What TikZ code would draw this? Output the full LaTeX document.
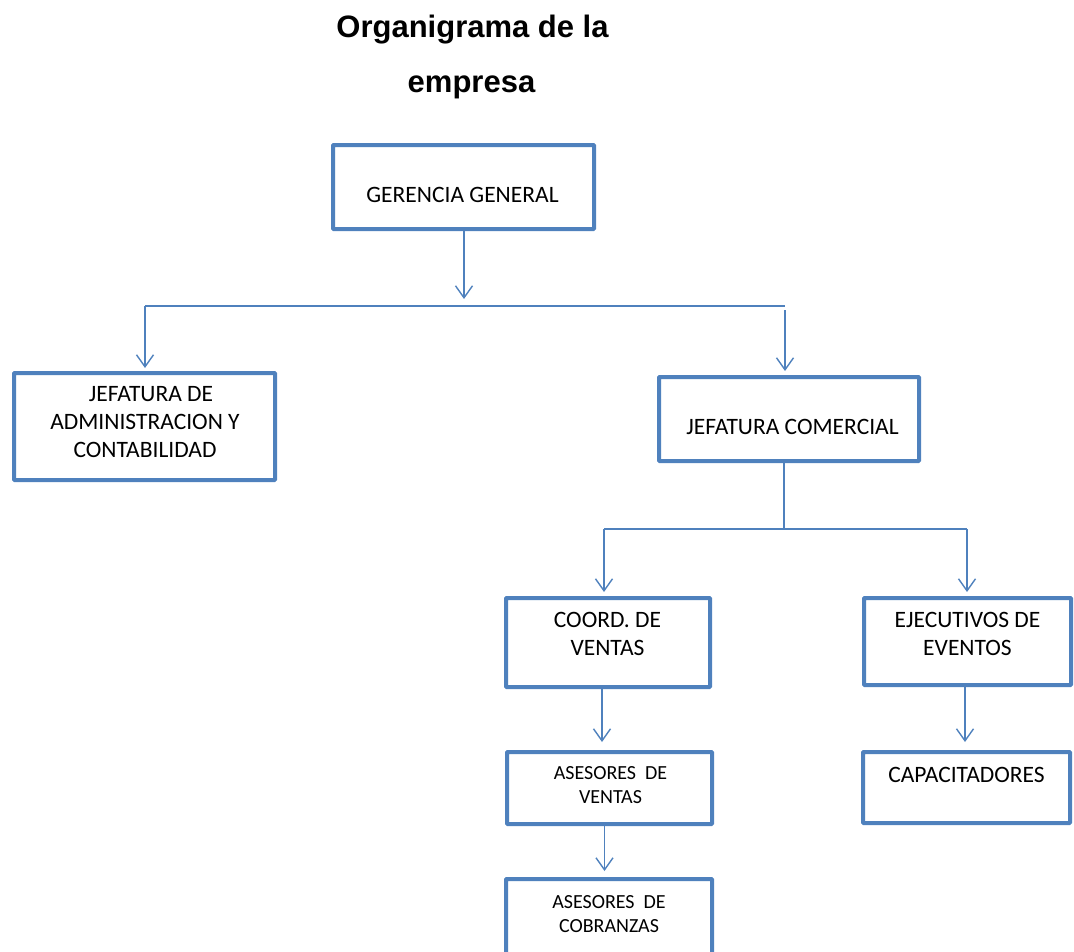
\documentclass[tikz,border=0pt]{standalone}
\usepackage{fontspec}
\setmainfont{Carlito}
\newfontfamily\titlefont{Liberation Sans}
\usetikzlibrary{arrows.meta}
\definecolor{ofblue}{RGB}{79,129,189}
\tikzset{
  box/.style={draw=ofblue, line width=4pt, fill=white, inner sep=0pt, rounded corners=0.8pt},
  lbl/.style={font=\fontsize{23.5}{28}\selectfont, align=center, inner sep=0pt, text=black},
  slbl/.style={font=\fontsize{20}{24}\selectfont, align=center, inner sep=0pt, text=black},
  ttl/.style={font=\titlefont\bfseries\fontsize{31}{55}\selectfont, inner sep=0pt, anchor=base},
  conn/.style={draw=ofblue, line width=1.4pt},
  arr/.style={conn, -{Straight Barb[length=12pt,width=17pt,line width=1.4pt]}}
}
\begin{document}
\begin{tikzpicture}[x=1pt,y=-1pt]
\useasboundingbox (0,0) rectangle (1074,951);
\clip (0,0) rectangle (1074,951);

% title
\node[ttl] (t1) at (472.5,37) {Organigrama de la};
\node[ttl] (t2) at (471.5,92) {empresa};

% boxes
\node[box, minimum width=261pt, minimum height=84pt] (gg) at (463.5,187) {};
\node[box, minimum width=261pt, minimum height=107pt] (adm) at (144.5,426.5) {};
\node[box, minimum width=260pt, minimum height=84pt] (com) at (789,419) {};
\node[box, minimum width=204pt, minimum height=89pt] (coord) at (608,642.5) {};
\node[box, minimum width=207pt, minimum height=87pt] (ejec) at (967.5,641.5) {};
\node[box, minimum width=205pt, minimum height=72pt] (asv) at (609.5,788) {};
\node[box, minimum width=206pt, minimum height=84pt] (asc) at (609,921) {};
\node[box, minimum width=207pt, minimum height=71pt] (cap) at (966.5,787.5) {};

% texts
\node[lbl] (gg-t) at (462.5,195) {GERENCIA GENERAL};
\node[lbl] (adm-t) at (145,422) {\hspace*{12pt}JEFATURA DE\\ADMINISTRACION Y\\CONTABILIDAD};
\node[lbl] (com-t) at (792.5,427) {JEFATURA COMERCIAL};
\node[lbl] (coord-t) at (607.5,633.5) {COORD. DE\\VENTAS};
\node[lbl] (ejec-t) at (967.5,634) {EJECUTIVOS DE\\EVENTOS};
\node[slbl] (asv-t) at (610.5,785.5) {ASESORES~~DE\\VENTAS};
\node[slbl] (asc-t) at (609,914.5) {ASESORES~~DE\\COBRANZAS};
\node[lbl] (cap-t) at (966.5,774.5) {CAPACITADORES};

% connector points
\coordinate (g1) at (464,299);
\coordinate (h1L) at (145,306);
\coordinate (h1R) at (785,306);
\coordinate (c1) at (785,310);
\coordinate (h2M) at (784,529);
\coordinate (h2L) at (604,529);
\coordinate (h2R) at (967,529);

% connectors
\draw[arr] (gg.south -| g1) -- (g1);
\draw[conn] (h1L) -- (h1R);
\draw[arr, shorten >=3pt] (h1L) -- (h1L |- adm.north);
\draw[arr, shorten >=4pt] (c1) -- (c1 |- com.north);
\draw[conn] (com.south -| h2M) -- (h2M);
\draw[conn] (h2L) -- (h2R);
\draw[arr, shorten >=4pt] (h2L) -- (h2L |- coord.north);
\draw[arr, shorten >=4pt] (h2R) -- (h2R |- ejec.north);
\draw[arr, shorten >=8pt] ([xshift=-6pt]coord.south) -- ([xshift=-6pt]coord.south |- asv.north);
\draw[arr, shorten >=6pt] ([xshift=-5pt]asv.south) -- ([xshift=-5pt]asv.south |- asc.north);
\draw[arr, shorten >=8pt] ([xshift=-2.5pt]ejec.south) -- ([xshift=-2.5pt]ejec.south |- cap.north);
\end{tikzpicture}
\end{document}
